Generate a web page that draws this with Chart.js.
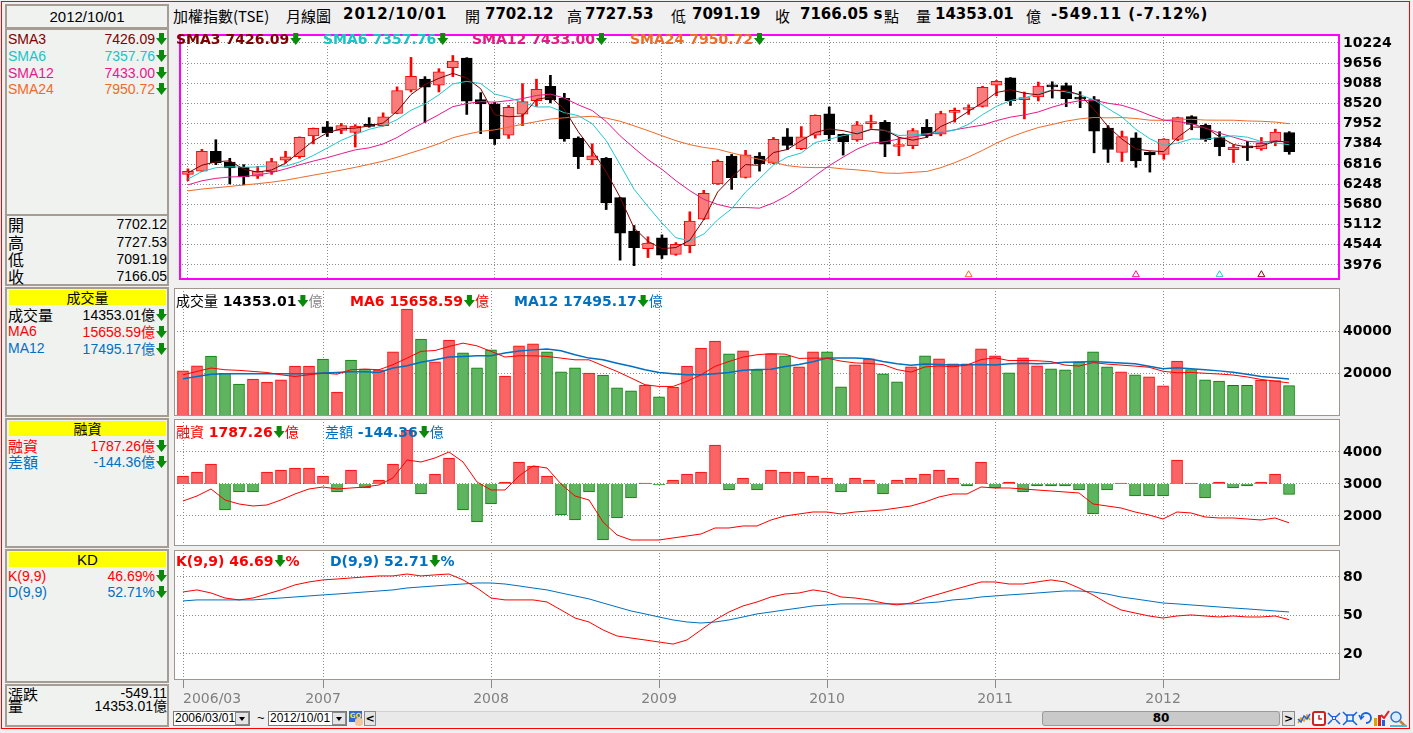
<!DOCTYPE html>
<html>
<head>
<meta charset="utf-8">
<script src="https://cdn.jsdelivr.net/npm/chart.js"></script>
<style>
body{margin:0;width:1413px;height:733px;background:#f0f0f0;position:relative;overflow:hidden;font-family:"Liberation Sans","Noto Sans CJK TC",sans-serif;}
.abs{position:absolute;white-space:nowrap;}
canvas{position:absolute;}
.frame{position:absolute;left:1px;top:1px;width:1407px;height:726px;border:1px solid #ff0000;}
.box{position:absolute;left:5px;width:164px;box-sizing:border-box;border:2px solid #a59d94;background:#f0f2f0;}
.row{position:absolute;left:8px;width:159px;height:17px;line-height:17px;font-size:14px;white-space:nowrap;}
.row .l{position:absolute;left:0;}
.row .v{position:absolute;right:0;}
.cjk{font-family:"Noto Sans CJK TC";}
.hd{position:absolute;left:9px;width:157px;height:15px;background:#ffff00;text-align:center;font:14px "Noto Sans CJK TC";line-height:15px;}
.ar{display:inline-block;width:11px;height:12px;background:#0a8a0a;clip-path:polygon(27% 0,73% 0,73% 42%,100% 42%,50% 100%,0 42%,27% 42%);vertical-align:-1px;margin-left:1px;}
.tt{position:absolute;top:5px;height:20px;line-height:20px;white-space:nowrap;color:#000;}
.tc{font:15px "Noto Sans CJK TC";}
.tb{font:bold 15px "DejaVu Sans";}
.lg{position:absolute;height:16px;line-height:16px;font:bold 14px "DejaVu Sans";white-space:nowrap;z-index:5;}
.lg .c{font:normal 14px "Noto Sans CJK TC";}
.btn{position:absolute;box-sizing:border-box;border:1px solid #8a8a8a;background:#e4e4e4;}
</style>
</head>
<body>
<div class="frame"></div>

<!-- left info column -->
<div class="box" style="top:4px;height:25px;text-align:center;font-size:15px;line-height:21px;">2012/10/01</div>
<div class="box" style="top:28px;height:258px;"></div>
<div class="abs" style="left:7px;top:214px;width:160px;height:2px;background:#a59d94;"></div>
<div class="box" style="top:287px;height:130px;"></div>
<div class="box" style="top:418px;height:130px;"></div>
<div class="box" style="top:549px;height:134px;"></div>
<div class="box" style="top:684px;height:43px;"></div>

<div class="row" style="top:31px;color:#800000"><span class="l">SMA3</span><span class="v">7426.09<i class="ar"></i></span></div>
<div class="row" style="top:48px;color:#19c3c8"><span class="l">SMA6</span><span class="v">7357.76<i class="ar"></i></span></div>
<div class="row" style="top:65px;color:#e8188c"><span class="l">SMA12</span><span class="v">7433.00<i class="ar"></i></span></div>
<div class="row" style="top:81px;color:#f06a28"><span class="l">SMA24</span><span class="v">7950.72<i class="ar"></i></span></div>

<div class="row" style="top:216px"><span class="l cjk" style="font-size:16px">開</span><span class="v">7702.12</span></div>
<div class="row" style="top:234px"><span class="l cjk" style="font-size:16px">高</span><span class="v">7727.53</span></div>
<div class="row" style="top:251px"><span class="l cjk" style="font-size:16px">低</span><span class="v">7091.19</span></div>
<div class="row" style="top:268px"><span class="l cjk" style="font-size:16px">收</span><span class="v">7166.05</span></div>

<div class="hd" style="top:290px;">成交量</div>
<div class="row" style="top:306px"><span class="l cjk" style="font-size:15px">成交量</span><span class="v">14353.01<span class="cjk">億</span><i class="ar"></i></span></div>
<div class="row" style="top:323px;color:#ff0000"><span class="l">MA6</span><span class="v">15658.59<span class="cjk">億</span><i class="ar"></i></span></div>
<div class="row" style="top:340px;color:#0070c0"><span class="l">MA12</span><span class="v">17495.17<span class="cjk">億</span><i class="ar"></i></span></div>

<div class="hd" style="top:421px;">融資</div>
<div class="row" style="top:437px;color:#ff0000"><span class="l cjk" style="font-size:15px">融資</span><span class="v">1787.26<span class="cjk">億</span><i class="ar"></i></span></div>
<div class="row" style="top:453px;color:#0070c0"><span class="l cjk" style="font-size:15px">差額</span><span class="v">-144.36<span class="cjk">億</span><i class="ar"></i></span></div>

<div class="hd" style="top:552px;font-family:'Liberation Sans';font-size:15px">KD</div>
<div class="row" style="top:568px;color:#ff0000"><span class="l">K(9,9)</span><span class="v">46.69%<i class="ar"></i></span></div>
<div class="row" style="top:584px;color:#0070c0"><span class="l">D(9,9)</span><span class="v">52.71%<i class="ar"></i></span></div>

<div class="row" style="top:685px"><span class="l cjk" style="font-size:15px">漲跌</span><span class="v">-549.11</span></div>
<div class="row" style="top:697px"><span class="l cjk" style="font-size:15px">量</span><span class="v">14353.01<span class="cjk">億</span></span></div>

<!-- title bar -->
<span class="tt tc" style="left:173px">加權指數(TSE)</span>
<span class="tt tc" style="left:286px">月線圖</span>
<span class="tt tb" style="left:343px;letter-spacing:1px">2012/10/01</span>
<span class="tt tc" style="left:465px">開</span>
<span class="tt tb" style="left:485px">7702.12</span>
<span class="tt tc" style="left:567px">高</span>
<span class="tt tb" style="left:585px">7727.53</span>
<span class="tt tc" style="left:671px">低</span>
<span class="tt tb" style="left:692px">7091.19</span>
<span class="tt tc" style="left:775px">收</span>
<span class="tt tb" style="left:800px">7166.05 s</span>
<span class="tt tc" style="left:884px">點</span>
<span class="tt tc" style="left:916px">量</span>
<span class="tt tb" style="left:935px">14353.01</span>
<span class="tt tc" style="left:1026px">億</span>
<span class="tt tb" style="left:1051px;letter-spacing:1px">-549.11 (-7.12%)</span>

<canvas id="cMain" width="1236" height="256" style="left:174px;top:29px"></canvas>
<canvas id="cVol" width="1236" height="128" style="left:174px;top:288px"></canvas>
<canvas id="cMar" width="1236" height="127" style="left:174px;top:419px"></canvas>
<canvas id="cKD" width="1236" height="160" style="left:174px;top:550px"></canvas>

<!-- in-panel legends -->
<div class="lg" style="left:176px;top:31px;color:#800000">SMA3 7426.09<i class="ar"></i></div>
<div class="lg" style="left:323px;top:31px;color:#19c3c8">SMA6 7357.76<i class="ar"></i></div>
<div class="lg" style="left:472px;top:31px;color:#e8188c">SMA12 7433.00<i class="ar"></i></div>
<div class="lg" style="left:630px;top:31px;color:#f06a28">SMA24 7950.72<i class="ar"></i></div>

<div class="lg" style="left:176px;top:290px;color:#000"><span class="c">成交量</span> 14353.01<i class="ar"></i><span class="c" style="color:#888">億</span></div>
<div class="lg" style="left:350px;top:290px;color:#ff0000">MA6 15658.59<i class="ar"></i><span class="c">億</span></div>
<div class="lg" style="left:514px;top:290px;color:#0070c0">MA12 17495.17<i class="ar"></i><span class="c">億</span></div>

<div class="lg" style="left:176px;top:421px;color:#ff0000"><span class="c">融資</span> 1787.26<i class="ar"></i><span class="c">億</span></div>
<div class="lg" style="left:325px;top:421px;color:#0070c0"><span class="c">差額</span> -144.36<i class="ar"></i><span class="c">億</span></div>

<div class="lg" style="left:176px;top:553px;color:#ff0000">K(9,9) 46.69<i class="ar"></i>%</div>
<div class="lg" style="left:330px;top:553px;color:#0070c0">D(9,9) 52.71<i class="ar"></i>%</div>

<!-- bottom controls -->
<div class="abs" style="left:173px;top:711px;width:77px;height:15px;box-sizing:border-box;border:1px solid #7a7a7a;background:#fff;font-size:12px;line-height:13px;padding-left:1px">2006/03/01</div>
<div class="btn" style="left:235px;top:712px;width:14px;height:13px;"><div style="position:absolute;left:3px;top:4px;border-left:3px solid transparent;border-right:3px solid transparent;border-top:4px solid #000"></div></div>
<div class="abs" style="left:257px;top:710px;font-size:13px">~</div>
<div class="abs" style="left:268px;top:711px;width:79px;height:15px;box-sizing:border-box;border:1px solid #7a7a7a;background:#fff;font-size:12px;line-height:13px;padding-left:1px">2012/10/01</div>
<div class="btn" style="left:332px;top:712px;width:14px;height:13px;"><div style="position:absolute;left:3px;top:4px;border-left:3px solid transparent;border-right:3px solid transparent;border-top:4px solid #000"></div></div>
<div class="abs" style="left:349px;top:711px;width:13px;height:11px;background:#2a6ad8;color:#ffe000;font:bold 7px 'DejaVu Sans';line-height:11px;text-align:center">GO</div>
<div class="abs" style="left:355px;top:718px;width:8px;height:8px;background:#f0c8a0;border-radius:3px"></div>
<div class="btn" style="left:364px;top:711px;width:12px;height:15px;font:bold 11px 'DejaVu Sans';line-height:13px;text-align:center">&lt;</div>
<div class="abs" style="left:376px;top:711px;width:905px;height:15px;background:#e9e9e9;border-top:1px solid #d0d0d0;box-sizing:border-box"></div>
<div class="abs" style="left:1042px;top:711px;width:238px;height:15px;box-sizing:border-box;border:1px solid #9a9a9a;border-radius:3px;background:#c9c9c9;text-align:center;font:bold 12px 'DejaVu Sans';line-height:13px">80</div>
<div class="btn" style="left:1282px;top:711px;width:13px;height:15px;font:bold 11px 'DejaVu Sans';line-height:13px;text-align:center">&gt;</div>
<svg class="abs" style="left:1297px;top:710px" width="112" height="17" viewBox="0 0 112 17">
  <path d="M1 13 L4 8 L7 11 L10 5 L13 10" stroke="#e8a000" stroke-width="1.5" fill="none"/>
  <path d="M1 9 L4 12 L7 6 L10 9 L13 4" stroke="#2060e0" stroke-width="1.5" fill="none"/>
  <rect x="16" y="2" width="12" height="13" rx="2" fill="#ffffff" stroke="#d02020" stroke-width="2"/>
  <path d="M22 5 V9 H25" stroke="#d02020" stroke-width="1.5" fill="none"/>
  <path d="M31 3 L35 7 M43 3 L39 7 M31 14 L35 10 M43 14 L39 10" stroke="#1060e0" stroke-width="1.5"/>
  <rect x="35.5" y="6.5" width="3" height="3" fill="none" stroke="#1060e0"/>
  <path d="M46 2 L50 6 M60 2 L56 6 M46 15 L50 11 M60 15 L56 11" stroke="#1060e0" stroke-width="1.5"/>
  <rect x="50" y="5" width="6" height="6" fill="none" stroke="#1060e0" stroke-width="1.5"/>
  <path d="M64 8 A5 5 0 1 1 69 13" stroke="#1060e0" stroke-width="1.8" fill="none"/>
  <path d="M62 5 L64 9 L67 6" stroke="#1060e0" stroke-width="1.5" fill="none"/>
  <rect x="77" y="8" width="3" height="8" fill="#e0a000"/><rect x="81" y="5" width="3" height="11" fill="#d02020"/><rect x="85" y="10" width="3" height="6" fill="#2060e0"/>
  <path d="M84 5 L87 8 L92 1" stroke="#e02020" stroke-width="2" fill="none"/>
  <circle cx="99" cy="7" r="5" fill="#d8ecff" stroke="#3070c0" stroke-width="1.5"/>
  <path d="M103 11 L108 16" stroke="#c08040" stroke-width="2.5"/>
  <rect x="93" y="15" width="17" height="2" fill="#40c0e0"/>
</svg>

<script>
// ---- data (monthly, 2006/03 .. 2012/10) ----
const yearTicks = [0, 10, 22, 34, 46, 58, 70];
const yearLabels = ['2006/03', '2007', '2008', '2009', '2010', '2011', '2012'];
const priceTicks = [10224, 9656, 9088, 8520, 7952, 7384, 6816, 6248, 5680, 5112, 4544, 3976];
const volTicks = [20000, 40000];
const marginTicks = [2000, 3000, 4000];
const kdTicks = [20, 50, 80];

const openP = [6526,6616,7175,6869,6725,6472,6598,6923,7022,7608,7860,7762,7707,7924,7897,8239,8898,9204,9033,9529,
  9799,8627,8510,7626,8221,8600,9006,8663,7545,6932,6977,5868,4930,4434,4741,4272,4515,5264,6256,7040,
  6436,7040,6842,7581,7248,7626,8230,7653,7491,7951,7987,7310,7329,7852,7653,8270,8350,8438,9033,9240,
  8627,8708,9015,9024,8672,8627,7825,7139,7554,7148,7085,7509,8149,7906,7563,7220,7320,7239,7446,7702.12];
const highP = [6680,7230,7500,6977,6797,6751,6977,7175,7580,7830,8014,7960,7924,8122,8257,8988,9817,9276,9500,9871,
  9810,8825,8555,8465,9078,9204,9312,8807,7581,7383,7000,5880,5084,4768,4822,4605,5471,6075,6932,7085,
  7202,7139,7563,7815,7870,8200,8420,7660,8014,8194,8041,7563,7816,8068,8302,8393,8483,9006,9168,9250,
  8843,9123,9132,9096,8852,8717,7897,7744,7698,7160,7530,8135,8176,7942,7725,7356,7455,7563,7797,7727.53];
const lowP = [6346,6600,6797,6256,6229,6409,6526,6842,6977,7383,7590,7671,7293,7852,7879,8230,8844,7987,8844,9276,
  8212,7671,7365,7536,7897,8438,8537,7455,6688,6797,5534,4110,3956,4182,4155,4245,4317,5250,6240,6102,
  6420,6616,6824,7220,7220,7545,7473,7067,7455,7816,7022,7049,7247,7563,7608,7996,8212,8420,8735,8465,
  8086,8591,8672,8429,8402,7131,6860,6887,6725,6589,6950,7473,7779,7455,7049,6860,6914,7202,7329,7091.19];
const closeP = [6613,7171,6846,6704,6454,6611,6883,7021,7567,7823,7699,7901,7884,7875,8145,8883,9287,8982,9411,9711,
  8586,8506,7521,8413,8572,8919,8619,7523,7024,7046,5719,4870,4460,4591,4248,4557,5210,5992,6890,6432,
  7078,6826,7509,7340,7582,8188,7640,7436,7920,8004,7374,7329,7760,7616,8238,8287,8372,8973,9145,8600,
  8683,9008,8989,8653,8644,7742,7225,7588,6904,7072,7517,8121,7933,7501,7301,7296,7270,7397,7715,7166.05];

const sma3 = [6569,6782,6877,6907,6668,6590,6649,6838,7157,7470,7696,7808,7828,7887,7968,8301,8772,9051,9227,9368,
  9236,8934,8204,8147,8169,8635,8703,8354,7722,7198,6596,5878,5016,4640,4433,4465,4672,5253,6031,6438,
  6800,6779,7138,7225,7477,7703,7803,7755,7665,7787,7766,7569,7488,7568,7871,8047,8299,8544,8830,8906,
  8809,8764,8893,8883,8762,8346,7870,7518,7239,7188,7164,7570,7857,7852,7578,7366,7289,7321,7461,7426.09];
const sma6 = [6390,6605,6712,6738,6725,6733,6778,6753,6873,7060,7267,7482,7649,7792,7888,8065,8329,8509,8764,9070,
  9143,9081,8786,8691,8552,8420,8425,8261,8178,7951,7475,6800,6107,5618,5156,4741,4656,4843,5248,5555,
  6027,6405,6788,7013,7128,7421,7514,7616,7684,7795,7760,7617,7637,7667,7720,7767,7934,8208,8439,8603,
  8677,8797,8900,8846,8763,8620,8377,8140,7793,7529,7341,7405,7523,7508,7574,7612,7570,7450,7413,7357.76];
const sma12 = [6230,6343,6412,6451,6463,6511,6574,6679,6793,6899,6996,7108,7214,7272,7381,7562,7798,7996,8207,8431,
  8516,8573,8558,8600,8658,8745,8784,8671,8482,8321,8013,7610,7266,6940,6667,6346,6066,5822,5678,5587,
  5591,5573,5722,5928,6188,6488,6770,7010,7236,7404,7444,7519,7576,7642,7702,7781,7847,7912,8038,8135,
  8198,8282,8417,8527,8601,8611,8527,8469,8346,8188,8052,8012,7950,7824,7683,7570,7456,7427,7468,7433.00];
const sma24 = [6060,6111,6148,6184,6227,6262,6305,6360,6432,6502,6573,6644,6722,6807,6896,7006,7130,7253,7390,7555,
  7654,7736,7777,7854,7936,8009,8082,8117,8140,8158,8110,8020,7891,7756,7612,7473,7362,7283,7231,7129,
  7037,6947,6868,6769,6727,6714,6719,6678,6651,6613,6561,6553,6583,6607,6712,6854,7017,7200,7404,7573,
  7717,7843,7930,8023,8088,8126,8115,8125,8097,8050,8045,8074,8074,8053,8050,8049,8028,8019,7997,7950.72];

const volume = [21400,23780,28370,20140,15130,17490,16070,17160,23640,23640,26950,11350,26480,22220,21890,30400,50590,36400,25670,35930,
  29930,22840,31350,18910,33240,34180,30400,20950,22840,20330,19380,13380,11960,14650,9120,13710,23640,32150,35460,29460,
  30870,21890,29460,28510,23310,30400,30400,13850,24250,27090,20000,16220,23310,28510,27090,24730,24730,31820,28510,20470,
  27560,23780,22360,21890,25670,30400,23310,20950,19530,18580,14330,26000,22000,17160,16500,14500,14500,17000,16800,14353.01];
const volMa6 = [19500,21100,22700,21900,21600,21100,20600,19500,18700,19500,20300,19800,21900,22200,21900,24300,27400,30600,31000,32900,
  34500,33200,30600,27900,28500,28500,28200,27400,26600,26600,23800,21100,18000,14800,14000,14000,16400,19500,23500,25800,
  27900,29000,29500,29275,27250,27400,27330,25990,25120,24880,24330,21970,20790,23230,23700,23310,24100,26700,27560,26220,
  26300,26150,25750,24100,23620,25280,24570,24100,23620,23070,21180,20450,20620,20230,19880,19400,18500,17300,16500,15658.59];
const volMa12 = [17600,18700,19800,20000,20000,20000,20000,20000,20000,20000,20300,20600,21000,21000,20600,22700,23800,25400,26600,27900,
  28200,28500,28500,29800,30800,31300,31700,30900,29000,27400,26600,25000,23500,21900,20600,20000,19500,19500,20000,20600,
  21600,22000,22150,23400,24350,25660,27440,27450,27500,27080,25790,24690,24060,24610,24410,24100,24210,24330,24180,24730,
  25000,24730,24920,25400,25590,25750,25440,25120,24690,23580,22400,22860,22400,21850,21360,20740,19810,18700,18150,17495.17];

const marginBal = [2469,2625,2844,2500,2375,2313,2344,2500,2688,2844,2906,2844,2875,2906,2969,3188,3750,3688,3813,4000,
  3688,3063,2813,2813,3250,3563,3500,3000,2625,2500,1813,1406,1250,1250,1250,1313,1375,1438,1625,1625,
  1688,1688,1875,2000,2063,2125,2125,2063,2125,2156,2188,2250,2313,2438,2594,2688,2688,2906,2875,2875,
  2844,2813,2781,2750,2719,2375,2313,2250,2125,2031,1906,2125,2094,1969,1938,1938,1906,1875,1938,1787.26];
const marginDiff = [112,168,280,-364,-112,-112,168,196,224,224,112,-112,196,-56,56,280,756,-140,140,364,
  -364,-532,-280,28,308,252,112,-434,-504,-112,-784,-476,-196,14,-14,56,140,168,546,-84,
  84,-84,196,168,168,112,84,-112,84,56,-140,56,84,140,196,84,-28,308,-56,28,
  -112,-28,-28,-28,-84,-420,-84,14,-168,-168,-168,336,14,-196,28,-56,-28,28,140,-144.36];

const kLine = [68.3,69.9,67.5,63.6,62.1,63.6,66.7,69.9,73.8,76.1,77.7,78.4,79.2,80.0,80.8,80.8,82.3,80.8,81.6,82.3,
  77.7,71.4,63.6,62.1,62.1,62.1,60.5,54.3,48.0,44.9,38.7,34.0,32.4,30.9,29.3,27.7,30.9,38.7,46.5,52.7,
  57.4,60.5,64.4,66.7,67.5,69.9,68.3,64.4,63.6,62.1,59.7,58.2,59.7,63.6,66.7,69.9,73.0,76.1,76.1,74.5,
  74.5,76.1,77.7,76.1,71.4,66.0,59.7,54.3,51.9,49.6,48.0,49.6,50.4,49.6,48.8,49.6,48.8,48.8,49.6,46.69];
const dLine = [61.3,62.1,62.1,62.1,62.1,62.1,62.9,63.6,64.4,65.2,66.0,66.7,67.5,68.3,69.1,69.9,71.4,72.2,73.0,73.8,
  74.5,75.3,75.3,74.5,73.0,71.4,69.9,67.5,65.2,62.9,59.7,56.6,53.5,51.2,48.8,46.5,44.9,44.1,44.9,46.5,
  48.8,51.2,52.7,54.3,55.8,57.4,58.2,59.0,59.0,59.0,59.0,59.0,59.0,59.7,60.5,62.1,62.9,64.4,65.2,66.0,
  66.7,67.5,68.3,69.1,69.1,68.3,66.7,64.4,62.9,61.3,59.7,59.0,58.2,57.4,56.6,55.8,55.1,54.3,53.5,52.71];

const markerIdx = [56, 68, 74, 77];
const markerColors = ['#f06a28', '#e8188c', '#20c8d0', '#800000'];

// ---- shared setup ----
const X_MIN = -0.643, X_MAX = 82.64;
const idx = closeP.map((_, i) => i);
const GRID = '#8c8c8c';
const UP_RED = '#ff0000', BODY_PINK = '#f87c7c', BAR_RED = '#fa6464', BAR_GREEN = '#5fb45f', DARK_GREEN = '#008000';

const framePlugin = {
  id: 'frame',
  beforeDraw(chart) {
    const a = chart.chartArea, c = chart.ctx;
    c.save();
    c.fillStyle = '#ffffff';
    c.fillRect(a.left, a.top, a.right - a.left, a.bottom - a.top);
    c.restore();
  },
  afterDraw(chart, args, opts) {
    const a = chart.chartArea, c = chart.ctx, w = opts.width || 1;
    c.save();
    c.strokeStyle = opts.color;
    c.lineWidth = w;
    c.strokeRect(a.left + w / 2, a.top + w / 2, a.right - a.left - w, a.bottom - a.top - w);
    c.restore();
  }
};

function noPad(s) {
  s.paddingTop = 0; s.paddingBottom = 0; s.paddingLeft = 0; s.paddingRight = 0;
}

function xScale(showLabels) {
  return {
    type: 'linear', min: X_MIN, max: X_MAX, offset: false,
    afterBuildTicks: s => {
      const t = showLabels ? yearTicks.concat([X_MAX]) : yearTicks;
      s.ticks = t.map(v => ({ value: v }));
    },
    afterFit: s => { s.height = showLabels ? 30 : 0; noPad(s); },
    grid: {
      offset: false,
      color: c => (c.tick && c.tick.value > 79) ? 'rgba(0,0,0,0)' : GRID,
      tickColor: c => (c.tick && c.tick.value > 79) ? 'rgba(0,0,0,0)' : '#8c8c8c',
      drawTicks: showLabels, tickLength: 8, tickBorderDash: [8, 0]
    },
    border: { display: false, dash: [1, 2] },
    ticks: {
      display: showLabels, autoSkip: false, maxRotation: 0, align: 'inner', padding: 3,
      color: '#808080', font: { family: 'DejaVu Sans', size: 14 },
      callback: v => { const k = yearTicks.indexOf(v); return k >= 0 ? yearLabels[k] : ''; }
    }
  };
}

function yScale(min, max, ticks) {
  return {
    type: 'linear', position: 'right', min: min, max: max,
    afterBuildTicks: s => { s.ticks = ticks.map(v => ({ value: v })); },
    afterFit: s => { s.width = 70; noPad(s); },
    grid: { color: GRID, drawTicks: false },
    border: { display: false, dash: [1, 2] },
    ticks: { padding: 3, color: '#000', font: { family: 'DejaVu Sans', size: 14, weight: 'bold' }, callback: v => String(v) }
  };
}

function baseOptions(extra) {
  return Object.assign({
    responsive: false, maintainAspectRatio: false, animation: false, devicePixelRatio: 1, events: [],
    layout: { padding: 0 }
  }, extra);
}

function line(data, color, width) {
  return { type: 'line', data: idx.map(i => ({ x: i, y: data[i] })), borderColor: color, borderWidth: width || 1,
    pointRadius: 0, tension: 0, fill: false, order: 0 };
}

const candleUp = idx.map(i => closeP[i] >= openP[i]);
const dayUp = idx.map(i => i === 0 ? true : closeP[i] >= closeP[i - 1]);

// ---- main price panel ----
new Chart(document.getElementById('cMain'), {
  type: 'bar',
  data: {
    datasets: [
      line(sma3, '#800000'),
      line(sma6, '#20c8d0'),
      line(sma12, '#e8188c'),
      line(sma24, '#f06a28'),
      { type: 'scatter', data: markerIdx.map(i => ({ x: i, y: 3700 })), pointStyle: 'triangle', pointRadius: 4,
        pointBorderColor: markerColors, pointBackgroundColor: 'rgba(0,0,0,0)', pointBorderWidth: 1, order: 0 },
      { label: 'body', data: idx.map(i => ({ x: i, y: [openP[i], closeP[i]] })),
        backgroundColor: idx.map(i => candleUp[i] ? BODY_PINK : '#000'),
        borderColor: idx.map(i => candleUp[i] ? UP_RED : '#000'),
        borderWidth: 1, borderSkipped: false, barThickness: 11, minBarLength: 2, grouped: false, order: 2 },
      { label: 'wick', data: idx.map(i => ({ x: i, y: [lowP[i], highP[i]] })),
        backgroundColor: idx.map(i => candleUp[i] ? UP_RED : '#000'),
        barThickness: 2, grouped: false, order: 3 }
    ]
  },
  options: baseOptions({
    plugins: { legend: { display: false }, tooltip: { enabled: false }, frame: { color: '#ff00ff', width: 2 } },
    scales: { x: xScale(false), y: yScale(3551, 10476, priceTicks) }
  }),
  plugins: [framePlugin]
});

// ---- volume panel ----
new Chart(document.getElementById('cVol'), {
  type: 'bar',
  data: {
    datasets: [
      line(volMa6, '#ff0000', 1),
      line(volMa12, '#0070c0', 1.5),
      { data: idx.map(i => ({ x: i, y: volume[i] })),
        backgroundColor: idx.map(i => dayUp[i] ? BAR_RED : BAR_GREEN),
        borderColor: idx.map(i => dayUp[i] ? UP_RED : DARK_GREEN),
        borderWidth: 1, barThickness: 11, grouped: false, order: 1 }
    ]
  },
  options: baseOptions({
    plugins: { legend: { display: false }, tooltip: { enabled: false }, frame: { color: '#a0968c', width: 1 } },
    scales: { x: xScale(false), y: yScale(0, 60590, volTicks) }
  }),
  plugins: [framePlugin]
});

// ---- margin panel ----
new Chart(document.getElementById('cMar'), {
  type: 'bar',
  data: {
    datasets: [
      Object.assign(line(marginBal, '#ff0000', 1), { yAxisID: 'y' }),
      { data: idx.map(i => ({ x: i, y: marginDiff[i] })), yAxisID: 'y2',
        backgroundColor: idx.map(i => marginDiff[i] >= 0 ? BAR_RED : BAR_GREEN),
        borderColor: idx.map(i => marginDiff[i] >= 0 ? UP_RED : DARK_GREEN),
        borderWidth: 1, barThickness: 11, grouped: false, order: 1 }
    ]
  },
  options: baseOptions({
    plugins: { legend: { display: false }, tooltip: { enabled: false }, frame: { color: '#a0968c', width: 1 } },
    scales: {
      x: xScale(false),
      y: yScale(1062, 5031, marginTicks),
      y2: { type: 'linear', display: false, min: -868, max: 910 }
    }
  }),
  plugins: [framePlugin]
});

// ---- KD panel ----
new Chart(document.getElementById('cKD'), {
  type: 'line',
  data: {
    datasets: [
      line(kLine, '#ff0000', 1),
      line(dLine, '#0070c0', 1)
    ]
  },
  options: baseOptions({
    plugins: { legend: { display: false }, tooltip: { enabled: false }, frame: { color: '#a0968c', width: 1 } },
    scales: { x: xScale(true), y: yScale(-0.3, 101, kdTicks) }
  }),
  plugins: [framePlugin]
});
</script>
</body>
</html>
